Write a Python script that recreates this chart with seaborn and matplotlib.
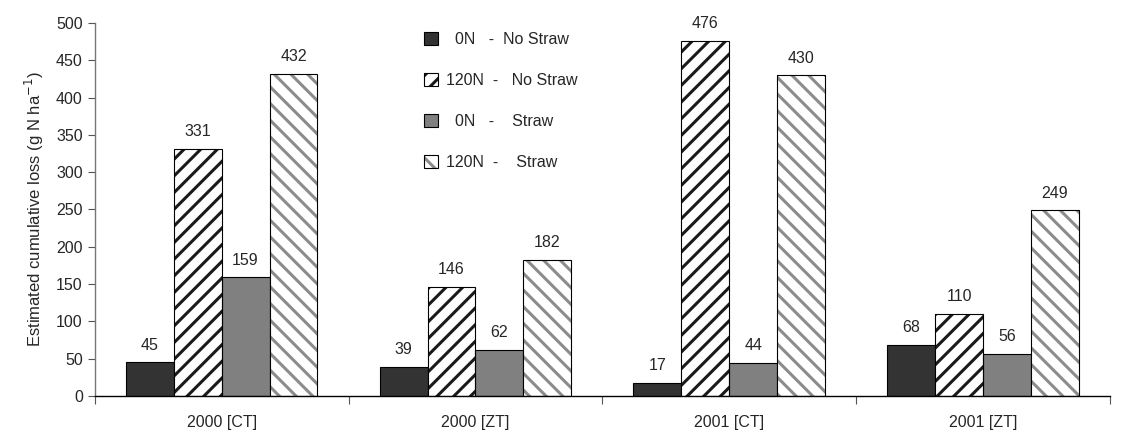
import numpy as np
import pandas as pd
import matplotlib
matplotlib.use('Agg')
import matplotlib.pyplot as plt
import seaborn as sns
from matplotlib.patches import Rectangle

# data
sites = ['2000 [CT]', '2000 [ZT]', '2001 [CT]', '2001 [ZT]']
treatments = ['0N - No Straw', '120N - No Straw', '0N - Straw', '120N - Straw']
n0_nostraw = [45, 39, 17, 68]
n120_nostraw = [331, 146, 476, 110]
n0_straw = [159, 62, 44, 56]
n120_straw = [432, 182, 430, 249]
legend_labels = ['  0N   -  No Straw', '120N  -   No Straw', '  0N   -    Straw', '120N  -    Straw']

df = pd.DataFrame({
    'site': sites * 4,
    'treat': np.repeat(treatments, 4),
    'loss': n0_nostraw + n120_nostraw + n0_straw + n120_straw,
})

sns.set_style('white')
plt.rcParams['font.family'] = ['Liberation Sans Narrow', 'Liberation Sans', 'DejaVu Sans']
plt.rcParams['hatch.linewidth'] = 2.2
fs = 11.5

fills = ['#333333', 'white', '#808080', 'white']
hatches = [None, '//', None, '\\\\']
hatch_cols = [None, '#1a1a1a', None, '#8c8c8c']

fig = plt.figure(figsize=(11.27, 4.36), dpi=100)
ax = fig.add_axes([0.084, 0.092, 0.901, 0.855])

sns.barplot(data=df, x='site', y='loss', hue='treat', order=sites, hue_order=treatments,
            palette=fills, width=0.755, edgecolor='black', linewidth=0.8, ax=ax, legend=False)

handles = []
for i, cont in enumerate(ax.containers):
    for p in cont.patches:
        if hatches[i]:
            p.set_hatch(hatches[i])
            p.set_edgecolor(hatch_cols[i])
            p.set_linewidth(0)
            ax.add_patch(Rectangle(p.get_xy(), p.get_width(), p.get_height(), fill=False,
                                   edgecolor='black', linewidth=0.8, zorder=p.get_zorder() + 0.1))
    ax.bar_label(cont, fmt='%d', padding=7, fontsize=fs)
    if hatches[i]:
        h = (Rectangle((0, 0), 1, 1, facecolor='white', hatch=hatches[i], edgecolor=hatch_cols[i], linewidth=0),
             Rectangle((0, 0), 1, 1, fill=False, edgecolor='black', linewidth=0.8))
    else:
        h = Rectangle((0, 0), 1, 1, facecolor=fills[i], edgecolor='black', linewidth=0.8)
    handles.append(h)

ax.legend(handles, legend_labels, loc='upper left', bbox_to_anchor=(0.31, 1.015),
          frameon=False, fontsize=fs, handlelength=0.9, handleheight=0.9,
          handletextpad=0.5, labelspacing=1.62)

ax.set_ylim(0, 500)
ax.set_xlim(-0.5, 3.5)
ax.set_yticks(np.arange(0, 501, 50))
ax.set_xlabel('')
ax.set_ylabel('Estimated cumulative loss (g N ha$^{-1}$)', fontsize=12, labelpad=7)
ax.tick_params(axis='y', labelsize=fs, length=5, width=0.8, color='#555555', left=True, direction='out')
ax.tick_params(axis='x', which='major', labelsize=fs, length=0, pad=14)
ax.set_xticks(np.arange(-0.5, 4.0, 1.0), minor=True)
ax.tick_params(axis='x', which='minor', length=6, width=0.8, color='#555555', bottom=True, direction='out')

sns.despine(ax=ax)
ax.spines['left'].set_color('#777777')
ax.spines['left'].set_linewidth(1.0)
ax.spines['bottom'].set_color('black')
ax.spines['bottom'].set_linewidth(1.0)

fig.savefig('out.png', dpi=100)
